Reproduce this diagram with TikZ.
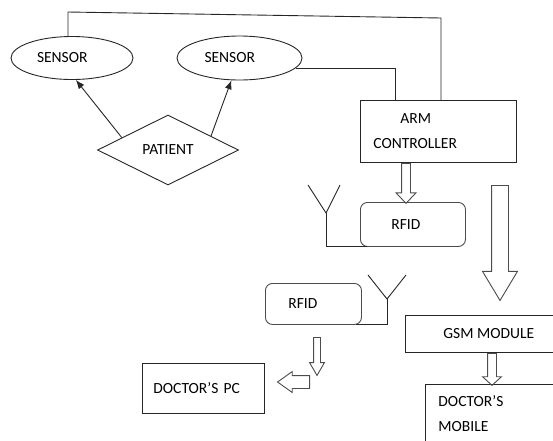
\documentclass[tikz,border=0pt]{standalone}
\usepackage{fontspec}
\usepackage{tikz}
\usetikzlibrary{arrows.meta}
\usetikzlibrary{shapes.geometric}
\usetikzlibrary{shapes.arrows}
\usetikzlibrary{positioning}
\setmainfont{Carlito}
\definecolor{mgrey}{rgb}{0.3, 0.3, 0.3}
\definecolor{mline}{rgb}{0.15, 0.15, 0.15}
\tikzset{box/.style = {draw=mline, rectangle, inner ysep=0pt, align=left},
         rbox/.style = {draw=mgrey, rounded corners=7pt, inner ysep=0pt, align=left},
         sensorshape/.style = {draw=mline, ellipse, text width=70pt, align=left},
         blockarrow/.style = {draw=mgrey, single arrow, inner xsep=0pt,
                              text height=0pt, text depth=0pt, anchor=tail},
         tip/.style = {-{Latex[length=9pt, width=7pt]}}}

\begin{document}
\begin{tikzpicture}[x=1pt, y=-1pt, line width=0.9pt, draw=mline,
                    font=\fontsize{15.5}{25}\selectfont]
    \clip (0, 0) rectangle (553, 440);

    \node [sensorshape, minimum width=122pt, minimum height=43pt] (s1) at (72, 58) {SENSOR};
    \node [sensorshape, minimum width=125pt, minimum height=44pt] (s2) at (239.5, 58) {SENSOR};
    \node [draw=mline, diamond, minimum width=141pt, minimum height=70pt, inner sep=0pt] (pat) at (168, 150) {PATIENT};

    \node [box, text width=130pt, inner xsep=13pt, minimum height=62pt, anchor=north west] (arm) at (360, 100) {\hspace*{27pt}ARM\\CONTROLLER};
    \node [rbox, text width=43pt, inner xsep=31pt, minimum height=44pt, anchor=north west] (rf1) at (360, 202) {RFID};
    \node [rbox, text width=50pt, inner xsep=23pt, minimum height=41pt, anchor=north west] (rf2) at (265, 283) {RFID};
    \node [box, inner xsep=38pt, minimum height=37pt, anchor=north west] (gsm) at (405, 315) {GSM MODULE};
    \node [box, text width=100pt, inner xsep=11pt, minimum height=50pt, anchor=north west] (pc) at (142, 363) {DOCTOR’S PC};
    \node [box, text width=130pt, inner xsep=13pt, minimum height=58pt, anchor=north west] (mob) at (425, 384) {DOCTOR’S\\MOBILE};

    \coordinate (tl) at (68, 12);
    \coordinate (tr) at (441, 18);
    \draw (s1.north -| tl) -- (tl) -- (tr) -- (tr |- arm.north);
    \draw (s2.-10) -| ([xshift=35pt]arm.north west);

    \draw [tip] (pat.165) -- (s1.-80);
    \draw [tip] (pat.18) -- (s2.-110);

    \coordinate (ant1) at (326, 213);
    \draw (ant1) -- ++(-18, -28);
    \draw (ant1) -- ++(14, -28);
    \draw (ant1) |- ([xshift=7pt]rf1.south west);

    \coordinate (ant2) at (387, 299);
    \draw (ant2) -- ++(-19, -24);
    \draw (ant2) -- ++(19, -24);
    \draw (ant2) |- ([xshift=-6pt]rf2.south east);

    \node [blockarrow, rotate=-90, minimum height=40pt, inner ysep=4pt, single arrow head extend=5.5pt, single arrow tip angle=87] (a1) at ([xshift=46pt]arm.south west) {};
    \node [blockarrow, rotate=-90, minimum height=115pt, inner ysep=8pt, single arrow head extend=9pt, single arrow tip angle=62] (a2) at (500, 185) {};
    \node [blockarrow, rotate=-90, minimum height=38pt, inner ysep=3pt, single arrow head extend=4pt, single arrow tip angle=60] (a3) at (317, 337) {};
    \node [blockarrow, rotate=180, minimum height=32pt, inner ysep=6pt, single arrow head extend=4pt, single arrow tip angle=71] (a4) at (310, 382) {};
    \node [blockarrow, rotate=-90, minimum height=32pt, inner ysep=4pt, single arrow head extend=5pt, single arrow tip angle=95] (a5) at ([xshift=87pt]gsm.south west) {};
\end{tikzpicture}
\end{document}
